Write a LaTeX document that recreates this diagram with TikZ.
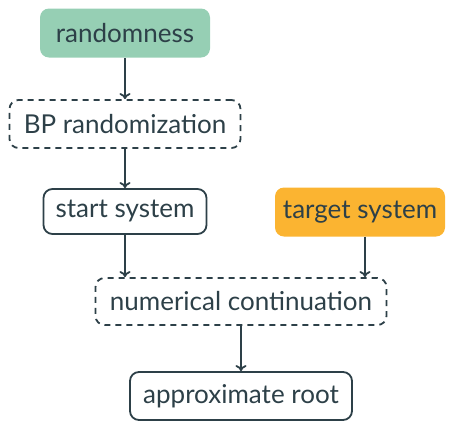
\documentclass[tikz,border=0pt]{standalone}
\usepackage{fontspec}
\setmainfont{Lato}
\usetikzlibrary{arrows.meta}
\definecolor{ink}{HTML}{2D4048}
\definecolor{mint}{HTML}{96CFB4}
\definecolor{amber}{HTML}{FBB431}
\tikzset{
  box/.style={draw=ink, line width=1.8pt, rounded corners=9pt, text=ink, font=\fontsize{26}{30}\selectfont, inner sep=0pt, align=center},
  solidbox/.style={box, fill=white},
  dashbox/.style={box, dash pattern=on 6pt off 5pt},
  greenbox/.style={box, draw=none, fill=mint},
  orangebox/.style={box, draw=none, fill=amber},
  conn/.style={draw=ink, line width=1.8pt, -{To[length=6pt,width=11pt]}}
}
\begin{document}
\begin{tikzpicture}[x=1pt,y=-1pt]
\useasboundingbox (0,0) rectangle (453,424);
\node[greenbox, minimum width=170pt, minimum height=49pt] (rand) at (125,33) {randomness};
\node[dashbox, minimum width=231pt, minimum height=48pt] (bp) at (125,124) {BP randomization};
\node[solidbox, minimum width=163pt, minimum height=45pt] (start) at (125,211.5) {start system};
\node[orangebox, minimum width=170pt, minimum height=49pt] (target) at (360,212) {target system};
\node[dashbox, minimum width=291pt, minimum height=47pt] (num) at (241,301.5) {numerical continuation};
\node[solidbox, minimum width=222pt, minimum height=48pt] (root) at (241,396) {approximate root};
\draw[conn] (rand.south) -- (bp.north);
\draw[conn] (bp.south) -- (start.north);
\draw[conn] (start.south) -- (start.south |- num.north);
\draw[conn] (365,236.5) coordinate (tgt) -- (tgt |- num.north);
\draw[conn] (num.south) -- (root.north);
\end{tikzpicture}
\end{document}
